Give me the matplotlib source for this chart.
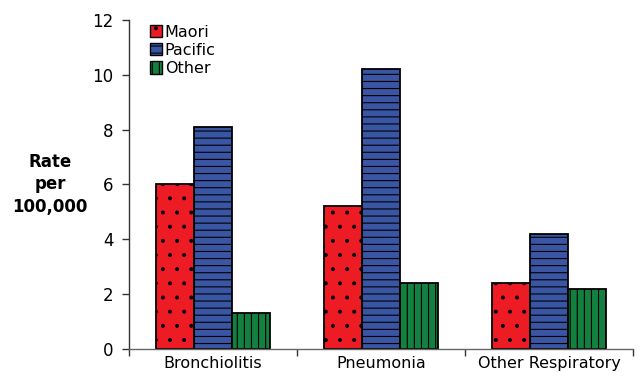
import numpy as np
import matplotlib.pyplot as plt
from matplotlib.patches import Patch

categories = ['Bronchiolitis', 'Pneumonia', 'Other Respiratory']
groups = ['Maori', 'Pacific', 'Other']
maori = [6.0, 5.2, 2.4]
pacific = [8.1, 10.2, 4.2]
other = [1.3, 2.4, 2.2]

colors = ['#ed1c24', '#3a55a4', '#138040']
hatches = ['.', '--', '||']

# lower dpi so the hatch pattern gets a tighter pitch; sizes scaled by k
DPI = 85
k = 100 / DPI
plt.rcParams['hatch.linewidth'] = 0.8 * k
plt.rcParams['font.family'] = 'DejaVu Sans'
fs = 12 * k

fig = plt.figure(figsize=(643 / DPI, 377 / DPI), dpi=DPI)
ax = fig.add_axes([0.2006, 0.0743, 0.784, 0.8727])

x = np.arange(len(categories)) + 0.5
w = 0.226
for i, (vals, c, h) in enumerate(zip([maori, pacific, other], colors, hatches)):
    ax.bar(x + (i - 1) * w, vals, w, color=c, edgecolor='black',
           linewidth=1.3 * k, hatch=h, zorder=2)

ax.set_xlim(0, 3)
ax.set_ylim(0, 12)
ax.set_yticks(np.arange(0, 13, 2))
ax.set_xticks([0, 1, 2, 3])
ax.set_xticklabels([])
ax.set_xticks(x, minor=True)
ax.set_xticklabels(categories, minor=True)
ax.tick_params(axis='x', which='minor', length=0, pad=5 * k, labelsize=11.5 * k)
ax.tick_params(axis='x', which='major', length=5 * k, width=k, direction='out', color='#333')
ax.tick_params(axis='y', length=5 * k, width=k, direction='out', labelsize=fs,
               pad=6 * k, color='#333')

for s in ['top', 'right']:
    ax.spines[s].set_visible(False)
ax.spines['left'].set_color('#333')
ax.spines['left'].set_linewidth(k)
ax.spines['bottom'].set_color('#666')
ax.spines['bottom'].set_linewidth(k)

ax.text(-0.47, 6.0, 'Rate\nper\n100,000', transform=ax.transData,
        ha='center', va='center', fontsize=12 * k, fontweight='bold',
        linespacing=1.35)

handles = [Patch(facecolor=c, edgecolor='black', hatch=h, linewidth=k)
           for c, h in zip(colors, hatches)]
ax.legend(handles, groups, loc='upper left', bbox_to_anchor=(0.022, 1.015),
          frameon=False, fontsize=11.5 * k, handlelength=0.8, handleheight=0.8,
          handletextpad=0.15, labelspacing=0.2, borderaxespad=0.2)

fig.savefig('out.png', dpi=DPI)
